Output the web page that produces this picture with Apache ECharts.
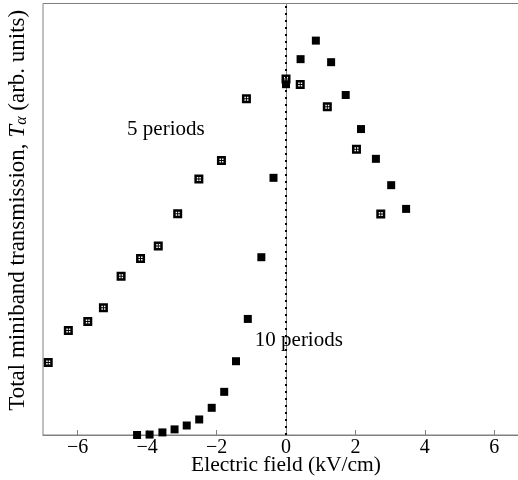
<!DOCTYPE html>
<html>
<head>
<meta charset="utf-8">
<script src="https://cdn.jsdelivr.net/npm/echarts@6/dist/echarts.min.js"></script>
<style>
html,body{margin:0;padding:0;background:#fff;}
#c{width:518px;height:480px;}
</style>
</head>
<body>
<div id="c"></div>
<script>
// 5 periods (open / hatched squares)
const fieldFive = [-6.85, -6.27, -5.71, -5.26, -4.75, -4.19, -3.68, -3.12, -2.51, -1.86, -1.14, 0.0, 0.41, 1.19, 2.03, 2.73];
const transFive = [16.8, 24.2, 26.3, 29.5, 36.8, 40.9, 43.8, 51.3, 59.3, 63.6, 77.9, 82.5, 81.2, 76.1, 66.2, 51.2];
// 10 periods (filled squares)
const fieldTen = [-4.29, -3.93, -3.56, -3.21, -2.86, -2.50, -2.14, -1.78, -1.44, -1.10, -0.71, -0.36, 0.0, 0.42, 0.86, 1.30, 1.72, 2.16, 2.59, 3.03, 3.46];
const transTen = [0.0, 0.1, 0.6, 1.3, 2.2, 3.6, 6.3, 10.0, 17.1, 26.9, 41.2, 59.6, 81.3, 87.1, 91.4, 86.4, 78.8, 70.9, 64.0, 57.9, 52.4];
const xTicks = [-6, -4, -2, 0, 2, 4, 6];
const labelFive = {text: '5 periods', x: -3.46, y: 70.7};
const labelTen = {text: '10 periods', x: 0.37, y: 21.8};

const FONT = 'Liberation Serif';
const hatched = 'path://M0,0 L9,0 L9,9 L0,9 Z M2.5,2.5 L2.5,4 L4,4 L4,2.5 Z M5,2.5 L5,4 L6.5,4 L6.5,2.5 Z M2.5,5 L2.5,6.5 L4,6.5 L4,5 Z M5,5 L5,6.5 L6.5,6.5 L6.5,5 Z';

const chart = echarts.init(document.getElementById('c'), null, {renderer: 'canvas'});
chart.setOption({
  animation: false,
  backgroundColor: '#fff',
  grid: {left: 43, top: 3.5, width: 486, bottom: 45, outerBoundsMode: 'none', containLabel: false,
    show: true, borderColor: '#808080', borderWidth: 1},
  xAxis: {
    type: 'value', min: -7, max: 7,
    name: 'Electric field (kV/cm)', nameLocation: 'middle', nameGap: 19, nameMoveOverlap: false,
    nameTextStyle: {fontFamily: FONT, fontSize: 21.5, color: '#000'},
    splitLine: {show: false},
    axisLine: {show: true, lineStyle: {color: '#808080', width: 1}},
    axisTick: {show: true, inside: true, length: 5, lineStyle: {color: '#808080'}, customValues: xTicks},
    axisLabel: {show: true, customValues: xTicks, margin: 3, fontFamily: FONT, fontSize: 20, color: '#000',
      formatter: v => String(v).replace('-', '\u2212')}
  },
  yAxis: {
    type: 'value', min: 0, max: 100,
    name: 'Total miniband transmission, {i|T}{s|α} (arb. units)',
    nameLocation: 'middle', nameRotate: 90, nameGap: 13, nameMoveOverlap: false,
    nameTextStyle: {fontFamily: FONT, fontSize: 23, color: '#000', padding: [0, 0, 0, 18],
      rich: {i: {fontFamily: FONT, fontSize: 23, fontStyle: 'italic', color: '#000'},
             s: {fontFamily: FONT, fontSize: 16, fontStyle: 'italic', color: '#000', padding: [8, 0, 0, 0]}}},
    splitLine: {show: false},
    axisLine: {show: true, lineStyle: {color: '#808080', width: 1}},
    axisTick: {show: false},
    axisLabel: {show: false}
  },
  series: [
    {
      name: '10 periods', type: 'scatter', symbol: 'rect', symbolSize: 8,
      itemStyle: {color: '#000', opacity: 1},
      data: fieldTen.map((x, i) => [x, transTen[i]]),
      markLine: {
        silent: true, symbol: 'none', label: {show: false},
        lineStyle: {color: '#000', width: 2, type: [2, 5]},
        data: [{xAxis: 0}]
      },
      markPoint: {
        silent: true, symbol: 'circle', symbolSize: 1,
        itemStyle: {color: 'rgba(0,0,0,0)'},
        label: {show: true, position: 'inside', formatter: '{b}', fontFamily: FONT, fontSize: 21, color: '#000'},
        data: [{name: labelTen.text, coord: [labelTen.x, labelTen.y]}]
      }
    },
    {
      name: '5 periods', type: 'scatter', symbol: hatched, symbolSize: 9,
      itemStyle: {color: '#000', opacity: 1},
      data: fieldFive.map((x, i) => [x, transFive[i]]),
      markPoint: {
        silent: true, symbol: 'circle', symbolSize: 1,
        itemStyle: {color: 'rgba(0,0,0,0)'},
        label: {show: true, position: 'inside', formatter: '{b}', fontFamily: FONT, fontSize: 21, color: '#000'},
        data: [{name: labelFive.text, coord: [labelFive.x, labelFive.y]}]
      }
    }
  ]
});
</script>
</body>
</html>
